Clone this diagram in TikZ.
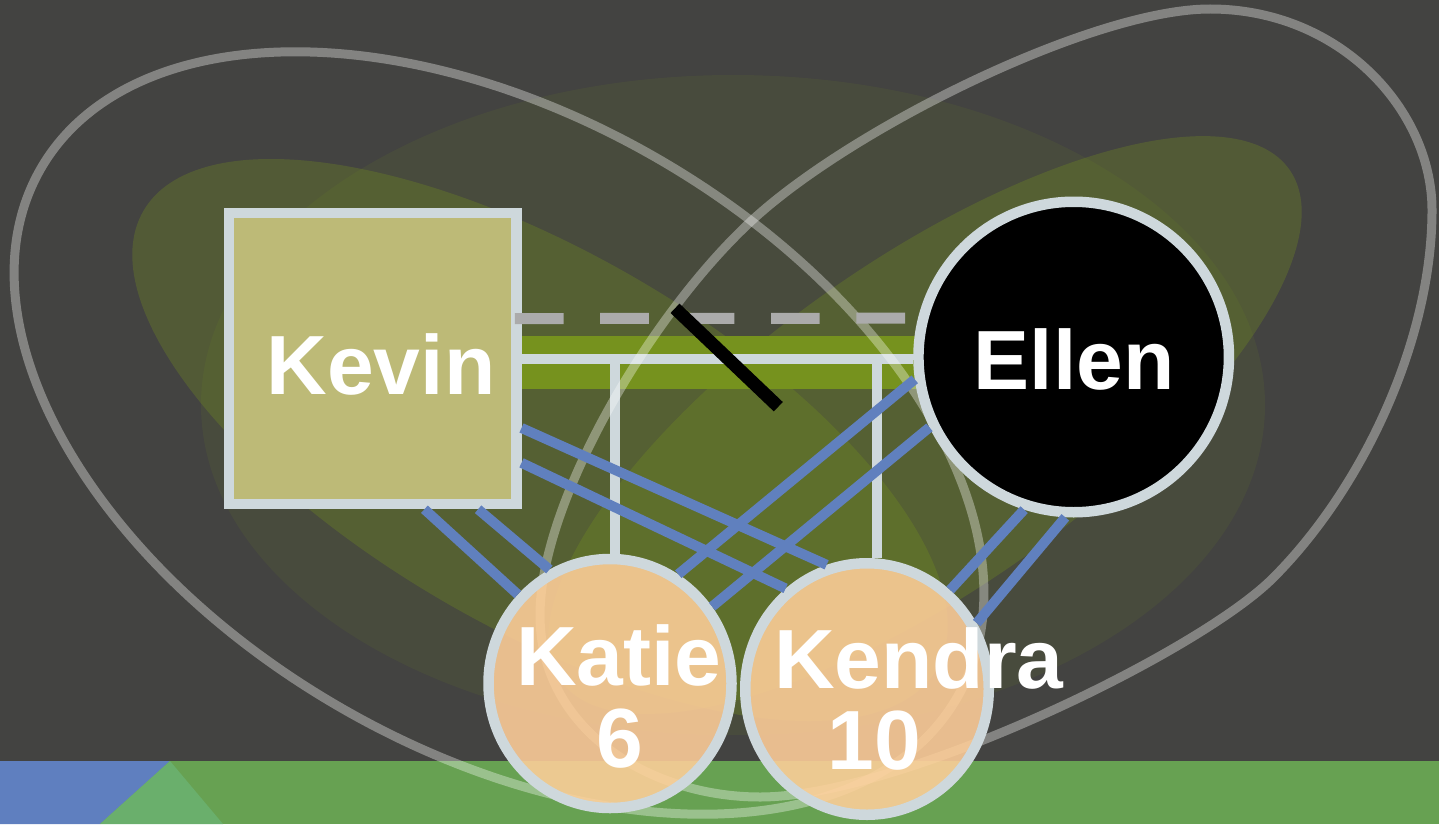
\documentclass[tikz,border=0pt]{standalone}
\usepackage{fontspec}
\setmainfont{Liberation Sans}
\usetikzlibrary{calc,shapes.geometric}
\pgfdeclarelayer{back}
\pgfdeclarelayer{mid}
\pgfdeclarelayer{front}
\pgfsetlayers{back,mid,main,front}
\definecolor{bgc}{RGB}{67,67,65}
\definecolor{edgec}{RGB}{206,216,220}
\definecolor{kevinc}{RGB}{189,186,119}
\definecolor{peach}{RGB}{255,207,154}
\definecolor{relblue}{RGB}{96,128,190}
\definecolor{bandgreen}{RGB}{118,146,30}
\definecolor{dashgray}{RGB}{171,171,171}
\definecolor{stripgreen}{RGB}{103,161,82}
\definecolor{stripblue}{RGB}{95,127,191}
\definecolor{trigreen}{RGB}{106,175,108}
\begin{document}
\begin{tikzpicture}[x=1pt,y=-1pt,
  person/.style={draw=edgec, line width=10.5pt, inner sep=0pt},
  lbl/.style={text=white, inner sep=0pt, anchor=base, font=\fontsize{84}{84}\selectfont\bfseries},
  rel/.style={draw=relblue, line width=10pt},
  famline/.style={draw=edgec, line width=10pt},
  hoop/.style={draw=white, draw opacity=0.34, line width=9pt},
  blob/.style={fill=bandgreen, fill opacity=0.3},
  dashline/.style={draw=dashgray, line width=11pt, dash pattern=on 48.7pt off 36.7pt}]
\useasboundingbox (0,0) rectangle (1439,824);

% nodes
\node[person, rectangle, fill=kevinc, minimum width=287.5pt, minimum height=291pt] (kevin) at (372.5,358.5) {};
\node[person, circle, fill=black, minimum size=310.5pt] (ellen) at (1073.7,357) {};
\node[person, ellipse, fill=peach, fill opacity=0.88, minimum width=243pt, minimum height=249pt] (katie) at (610,683.5) {};
\node[person, ellipse, fill=peach, fill opacity=0.88, minimum width=243.5pt, minimum height=251.5pt] (kendra) at (867,689) {};

\begin{pgfonlayer}{back}
  \fill[bgc] (0,0) rectangle (1439,824);
  \fill[stripgreen] (0,761) rectangle (1439,824);
  \fill[stripblue] (0,761) -- (170,761) -- (100,824) -- (0,824) -- cycle;
  \fill[trigreen] (170,761) -- (223,824) -- (100,824) -- cycle;
  \fill[bandgreen, fill opacity=0.1] (733,405) ellipse [x radius=532, y radius=330];
  \fill[blob, rotate around={-30:(540,440)}] (540,440) ellipse [x radius=458, y radius=188];
  \fill[blob, rotate around={35:(925,425)}] (925,425) ellipse [x radius=445, y radius=165];
\end{pgfonlayer}

\begin{pgfonlayer}{mid}
  \draw[draw=bandgreen, line width=53pt] ([yshift=-4.2pt]kevin.center) -- ([yshift=-4.2pt]kevin.center -| ellen.center);
  \draw[famline] (kevin.center) -- (kevin.center -| ellen.west);
  \coordinate (c1) at (615.3,358.5);
  \coordinate (c2) at (877.3,358.5);
  \draw[famline] (c1) -- (c1 |- katie.north);
  \draw[famline] (c2) -- (c2 |- kendra.north);
  \draw[hoop, rotate around={-30:(499,433)}] (499,433) ellipse [x radius=529, y radius=317];
  \draw[hoop] (1210,9) .. controls (1340,9) and (1432,110) .. (1432,210)
    .. controls (1432,340) and (1363,488) .. (1273,578)
    .. controls (1198,653) and (900,797) .. (760,797)
    .. controls (650,797) and (540,730) .. (540,615)
    .. controls (540,505) and (645,323) .. (745,227)
    .. controls (840,134) and (1090,9) .. (1210,9) -- cycle;
\end{pgfonlayer}

\begin{pgfonlayer}{front}
  \draw[dashline] ([xshift=-6.7pt]kevin.15.7) -- (ellen.166.7);
  \draw[rel] (kevin.-71.4) -- (katie.136);
  \draw[rel] (kevin.-55.5) -- (katie.118.9);
  \draw[rel] (kevin.-25.5) -- (kendra.108.5);
  \draw[rel] (kevin.-35.7) -- (kendra.129.3);
  \draw[rel] (ellen.188.2) -- (katie.58);
  \draw[rel] (ellen.206.4) -- (katie.37.5);
  \draw[rel] (ellen.252) -- (kendra.50.7);
  \draw[rel] (ellen.267.5) -- (kendra.31.5);
  \coordinate (s1) at (675,308.3);
  \coordinate (s2) at (778.3,406.7);
  \draw[black, line width=13pt] (s1) -- (s2);
  \node[lbl] (tkevin) at (381,394) {Kevin};
  \node[lbl] (tellen) at (1074,389) {Ellen};
  \node[lbl] (tkatie) at (619,685) {Katie};
  \node[lbl] (tkatieage) at (620,767) {6};
  \node[lbl] (tkendra) at (919,688) {Kendra};
  \node[lbl] (tkendraage) at (874,769) {10};
\end{pgfonlayer}
\end{tikzpicture}
\end{document}
